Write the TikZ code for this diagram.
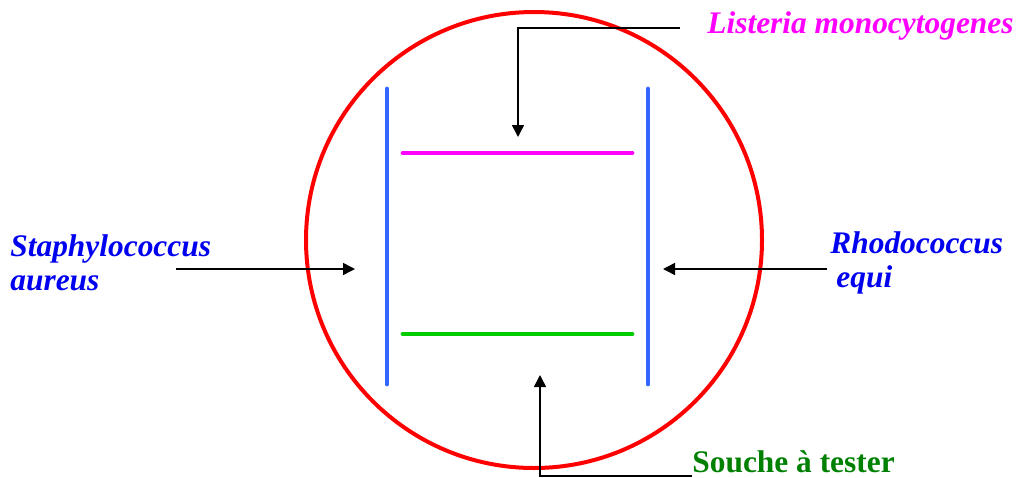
\documentclass[tikz,border=0pt]{standalone}
\usepackage{fontspec}
\setmainfont{Liberation Serif}
\usetikzlibrary{arrows.meta,positioning,calc}
\definecolor{petri}{RGB}{255,0,0}
\definecolor{strie}{RGB}{51,102,255}
\definecolor{listc}{RGB}{255,0,255}
\definecolor{testc}{RGB}{0,204,0}
\definecolor{labc}{RGB}{0,0,240}
\definecolor{soug}{RGB}{0,128,0}
\tikzset{
  lbl/.style={font=\fontsize{15.7}{17.2}\selectfont\bfseries\itshape,align=left,inner sep=0pt},
  arr/.style={-{Triangle[length=6pt,width=6pt]},line width=0.75pt,black},
  streak/.style={line width=2.4pt,line cap=round},
}
\begin{document}
\begin{tikzpicture}[x=0.5pt,y=-0.5pt]
  \useasboundingbox (0,0) rectangle (1017,477);
  % boite de Petri
  \node[circle,draw=petri,line width=2pt,minimum size=228pt,inner sep=0pt] (plate) at (534,240) {};
  % stries
  \draw[streak,strie] (387,89) -- (387,384);
  \draw[streak,strie] (648,89) -- (648,384);
  \draw[streak,listc] (403,153) -- (632,153);
  \draw[streak,testc] (403,334) -- (632,334);
  % points d'arrivee des fleches
  \coordinate (listip) at (518,137);
  \coordinate (soutip) at (540,375);
  \coordinate (statip) at (355,269);
  \coordinate (stafrom) at (176,269);
  \coordinate (rhotip) at (663,269);
  \coordinate (rhofrom) at (827,269);
  % legendes
  \node[lbl,text=listc,anchor=west] (lis) at (707,26) {Listeria monocytogenes};
  \node[lbl,text=labc,anchor=west] (sta) at (10,263) {Staphylococcus\\aureus};
  \node[lbl,text=labc,anchor=west] (rho) at (830,263) {Rhodococcus\\\hspace{3pt}equi};
  \node[lbl,font=\fontsize{15.7}{17.2}\selectfont\bfseries,text=soug,anchor=base west] (sou) at (692,472) {Souche à tester};
  % fleches
  \draw[arr] ([xshift=-13.5pt,yshift=-1pt]lis.west) -| (listip);
  \draw[arr] ([yshift=-2pt]sou.base west) -| (soutip);
  \draw[arr] (stafrom) -- (statip);
  \draw[arr] (rhofrom) -- (rhotip);
\end{tikzpicture}
\end{document}
